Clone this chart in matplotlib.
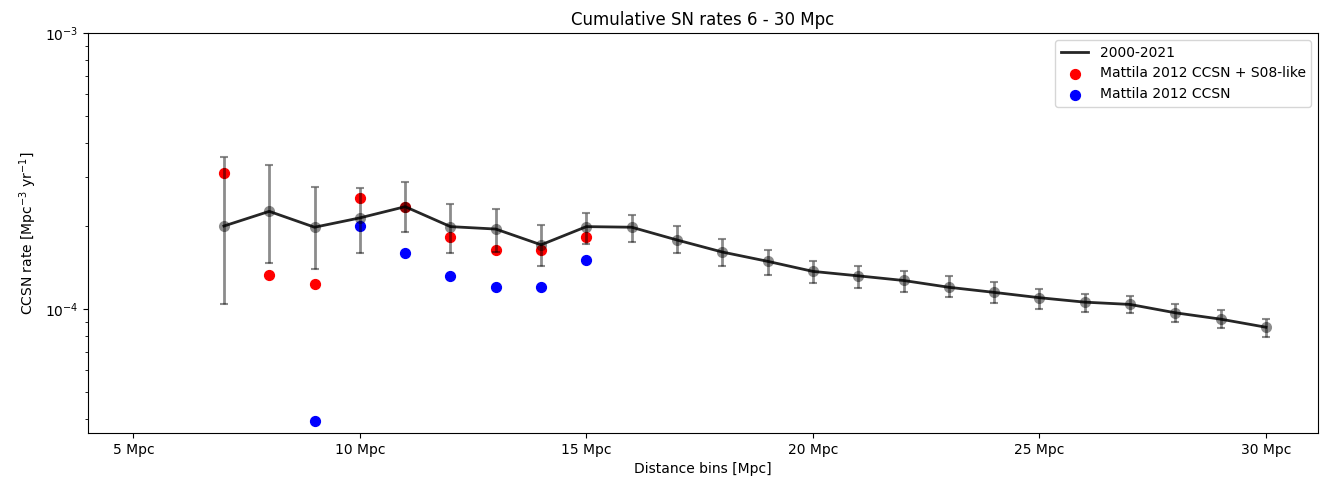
import numpy as np
import matplotlib
matplotlib.use("Agg")
import matplotlib.pyplot as plt

# cumulative rates 2000-2021 per distance bin
dist = [7, 8, 9, 10, 11, 12, 13, 14, 15, 16, 17, 18, 19, 20, 21, 22, 23, 24, 25, 26, 27, 28, 29, 30]
rate = [2.00e-4, 2.26e-4, 1.98e-4, 2.14e-4, 2.35e-4, 1.99e-4, 1.95e-4, 1.71e-4, 1.99e-4, 1.98e-4,
        1.78e-4, 1.61e-4, 1.49e-4, 1.37e-4, 1.32e-4, 1.27e-4, 1.20e-4, 1.15e-4, 1.10e-4, 1.06e-4,
        1.04e-4, 9.7e-5, 9.2e-5, 8.6e-5]
rate_hi = [3.56e-4, 3.34e-4, 2.78e-4, 2.74e-4, 2.88e-4, 2.40e-4, 2.31e-4, 2.01e-4, 2.23e-4, 2.20e-4,
           2.00e-4, 1.79e-4, 1.64e-4, 1.50e-4, 1.43e-4, 1.38e-4, 1.32e-4, 1.25e-4, 1.18e-4, 1.13e-4,
           1.12e-4, 1.04e-4, 9.9e-5, 9.2e-5]
rate_lo = [1.04e-4, 1.47e-4, 1.40e-4, 1.60e-4, 1.91e-4, 1.60e-4, 1.61e-4, 1.43e-4, 1.72e-4, 1.75e-4,
           1.60e-4, 1.43e-4, 1.33e-4, 1.24e-4, 1.19e-4, 1.15e-4, 1.11e-4, 1.05e-4, 1.00e-4, 9.8e-5,
           9.7e-5, 9.0e-5, 8.55e-5, 7.95e-5]

# Mattila 2012
mat_dist = [7, 8, 9, 10, 11, 12, 13, 14, 15]
mat_s08 = [3.11e-4, 1.33e-4, 1.23e-4, 2.52e-4, 2.35e-4, 1.83e-4, 1.64e-4, 1.64e-4, 1.83e-4]
mat_dist_cc = [9, 10, 11, 12, 13, 14, 15]
mat_cc = [3.93e-5, 2.00e-4, 1.60e-4, 1.32e-4, 1.20e-4, 1.20e-4, 1.51e-4]

xticks = [5, 10, 15, 20, 25, 30]

rate = np.array(rate)
yerr = [rate - np.array(rate_lo), np.array(rate_hi) - rate]

fig = plt.figure(figsize=(13.28, 4.87), dpi=100)
ax = fig.add_axes([0.0663, 0.1109, 0.9262, 0.8213])

ax.scatter(mat_dist, mat_s08, color='red', s=50, label='Mattila 2012 CCSN + S08-like', zorder=2)
ax.scatter(mat_dist_cc, mat_cc, color='blue', s=50, label='Mattila 2012 CCSN', zorder=2)
eb = ax.errorbar(dist, rate, yerr=yerr, fmt='o', color='k', alpha=0.45, capsize=3,
                 markersize=8, elinewidth=2, zorder=3)
eb[0].set_markeredgewidth(0)
for cap in eb[1]:
    cap.set_markeredgewidth(1.5)
ax.plot(dist, rate, color='k', lw=2, alpha=0.85, label='2000-2021', zorder=4)

ax.set_yscale('log')
ax.set_ylim(3.56e-5, 1e-3)
ax.set_xlim(4.0, 31.15)
ax.set_xticks(xticks)
ax.set_xticklabels([f'{t} Mpc' for t in xticks])
ax.set_xlabel('Distance bins [Mpc]')
ax.set_ylabel('CCSN rate [Mpc$^{-3}$ yr$^{-1}$]')
ax.set_title('Cumulative SN rates 6 - 30 Mpc')

h, l = ax.get_legend_handles_labels()
order = [l.index('2000-2021'), l.index('Mattila 2012 CCSN + S08-like'), l.index('Mattila 2012 CCSN')]
ax.legend([h[i] for i in order], [l[i] for i in order], loc='upper right')

fig.savefig('out.png', dpi=100)
